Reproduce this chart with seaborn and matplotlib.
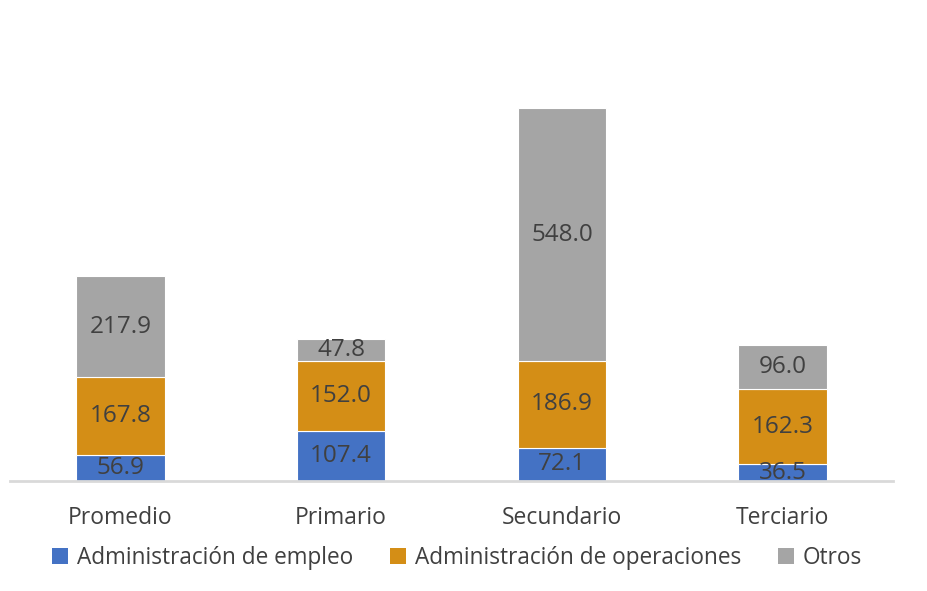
import matplotlib
matplotlib.use("Agg")
import matplotlib.pyplot as plt
import seaborn as sns
import pandas as pd
import numpy as np
from matplotlib.patches import Patch

categories = ["Promedio", "Primario", "Secundario", "Terciario"]
empleo = [56.9, 107.4, 72.1, 36.5]
operaciones = [167.8, 152.0, 186.9, 162.3]
otros = [217.9, 47.8, 548.0, 96.0]
series_names = ["Administración de empleo", "Administración de operaciones", "Otros"]
colors = ["#4472C4", "#D48E16", "#A5A5A5"]

sns.set_theme(style="white")
plt.rcParams['font.family'] = ['Open Sans', 'DejaVu Sans']

fig = plt.figure(figsize=(9.27, 5.91), dpi=100)
ax = fig.add_axes([10/927, 110/591, 883/927, 416/591])

df = pd.DataFrame({"cat": categories, "empleo": empleo, "oper": operaciones, "otros": otros})
bottom = np.zeros(len(categories))
for col, name, c in zip(["empleo", "oper", "otros"], series_names, colors):
    sns.barplot(data=df, x="cat", y=col, color=c, width=0.4, bottom=bottom,
                edgecolor="white", linewidth=0.8, ax=ax, saturation=1, zorder=2)
    vals = df[col].values
    for i, v in enumerate(vals):
        ax.text(i, bottom[i] + v / 2, f"{v:.1f}", ha="center", va="center",
                fontsize=17.5, color="#404040", zorder=3)
    bottom = bottom + vals

ax.set_ylim(0, 900)
ax.set_xlim(-0.5, 3.5)
ax.set_xlabel("")
ax.set_ylabel("")
ax.set_yticks([])
ax.tick_params(axis="x", length=0, pad=18, labelsize=16.5, labelcolor="#404040")
for s in ["top", "right", "left"]:
    ax.spines[s].set_visible(False)
ax.spines["bottom"].set_color("#D9D9D9")
ax.spines["bottom"].set_linewidth(2)
ax.spines["bottom"].set_zorder(5)

handles = [Patch(facecolor=c, edgecolor="none") for c in colors]
fig.legend(handles, series_names, loc="center", bbox_to_anchor=(0.493, 1 - 558/591),
           ncol=3, frameon=False, fontsize=16.3, handlelength=0.7, handleheight=0.7,
           handletextpad=0.4, columnspacing=1.62, labelcolor="#404040")

fig.savefig("out.png", dpi=100)
